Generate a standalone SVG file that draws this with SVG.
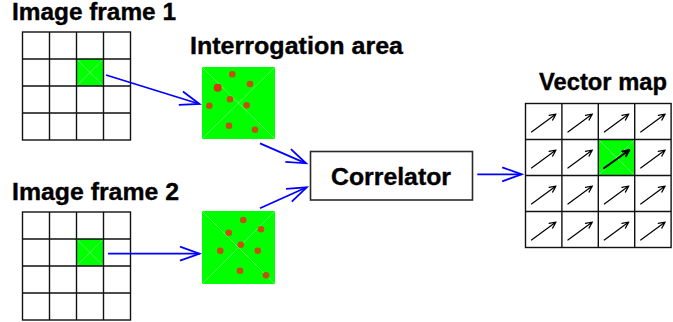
<svg xmlns="http://www.w3.org/2000/svg" xmlns:xlink="http://www.w3.org/1999/xlink" width="673" height="322" viewBox="0 0 673 322">
  <style>
    .label { font-family: "Liberation Sans", Arial, sans-serif; font-weight: bold; font-size: 23px; fill: #000; stroke: #000; stroke-width: 0.35; }
    .grid { fill: none; stroke: #111; stroke-width: 1.4; }
    .hot { fill: #00ff00; }
    .diag { stroke: #ffffff; stroke-opacity: 0.45; stroke-width: 0.8; }
    .dot { fill: #c2500f; }
    .flow { fill: none; stroke: #0000ff; stroke-width: 1.8; marker-end: url(#openHead); }
    .vec { fill: none; stroke: #000; stroke-width: 1.2; stroke-linecap: round; stroke-linejoin: round; }
    .vec-strong { stroke-width: 2; }
  </style>
  <defs>
    <marker id="openHead" markerUnits="userSpaceOnUse" markerWidth="24" markerHeight="18" refX="20" refY="8" orient="auto" overflow="visible">
      <path d="M0.5,1 L20,8 L0.5,15" fill="none" stroke="#0000ff" stroke-width="1.8"/>
    </marker>
    <!-- 4x4 frame grid, 27px cells -->
    <g id="frameGrid">
      <rect class="grid" x="0" y="0" width="108" height="108"/>
      <path class="grid" d="M27,0V108M54,0V108M81,0V108M0,27H108M0,54H108M0,81H108"/>
    </g>
    <!-- highlighted window cell with faint diagonals -->
    <g id="hotCell">
      <rect class="hot" x="0" y="0" width="27" height="27"/>
      <path class="diag" d="M0,0L27,27M27,0L0,27"/>
    </g>
    <!-- displacement vector inside a map cell -->
    <g id="vec">
      <path class="vec" d="M6,28.5 L30.5,10.5 M23.6,11.9 L30.5,10.5 L27.1,16.6"/>
    </g>
  </defs>

  <rect width="673" height="322" fill="#ffffff"/>

  <!-- first image frame -->
  <g id="frame1">
    <text class="label" x="12" y="19.5" textLength="164" lengthAdjust="spacingAndGlyphs">Image frame 1</text>
    <use href="#hotCell" x="76.5" y="59"/>
    <use href="#frameGrid" x="22.5" y="32"/>
  </g>

  <!-- second image frame -->
  <g id="frame2">
    <text class="label" x="12" y="199.5" textLength="167" lengthAdjust="spacingAndGlyphs">Image frame 2</text>
    <use href="#hotCell" x="76.5" y="239"/>
    <use href="#frameGrid" x="22.5" y="212"/>
  </g>

  <!-- interrogation window from frame 1 -->
  <g id="area1">
    <text class="label" x="190" y="53.5" textLength="213" lengthAdjust="spacingAndGlyphs" font-size="24">Interrogation area</text>
    <rect class="hot" x="202" y="67" width="73" height="72"/>
    <path class="diag" d="M202,67L275,139M275,67L202,139"/>
    <circle class="dot" cx="232.3" cy="74.3" r="3.3"/>
    <circle class="dot" cx="250" cy="84" r="3.3"/>
    <circle cx="217.7" cy="87.7" r="4" fill="#d8340c"/>
    <circle class="dot" cx="230" cy="99.3" r="3.3"/>
    <circle class="dot" cx="209.3" cy="105.7" r="3.3"/>
    <circle class="dot" cx="246.7" cy="105.3" r="3.3"/>
    <circle class="dot" cx="229" cy="125.7" r="3.3"/>
    <circle class="dot" cx="255" cy="129.7" r="3.3"/>
  </g>

  <!-- interrogation window from frame 2 -->
  <g id="area2">
    <rect class="hot" x="202" y="211" width="73" height="73"/>
    <path class="diag" d="M202,211L275,284M275,211L202,284"/>
    <circle class="dot" cx="243.3" cy="220" r="3.3"/>
    <circle class="dot" cx="261" cy="229.3" r="3.3"/>
    <circle class="dot" cx="228.7" cy="232.7" r="3.3"/>
    <circle class="dot" cx="240.7" cy="244.7" r="3.3"/>
    <circle class="dot" cx="220.3" cy="250.7" r="3.3"/>
    <circle class="dot" cx="257.7" cy="250.7" r="3.3"/>
    <circle class="dot" cx="240" cy="270.7" r="3.3"/>
    <circle class="dot" cx="266" cy="275.3" r="3.3"/>
  </g>

  <!-- correlator block -->
  <g id="correlator">
    <rect x="310.5" y="151.5" width="162" height="48.5" fill="#ffffff" stroke="#2a2a2a" stroke-width="1.6"/>
    <text class="label" x="331" y="184.5" textLength="120" lengthAdjust="spacingAndGlyphs">Correlator</text>
  </g>

  <!-- resulting vector map -->
  <g id="vectormap">
    <text class="label" x="539" y="89.5" textLength="128" lengthAdjust="spacingAndGlyphs">Vector map</text>
    <rect class="hot" x="598.3" y="139.5" width="36.4" height="36"/>
    <path class="diag" d="M598.3,139.5L634.7,175.5M634.7,139.5L598.3,175.5"/>
    <rect class="grid" x="525.5" y="103.5" width="145.6" height="144"/>
    <path class="grid" d="M561.9,103.5V247.5M598.3,103.5V247.5M634.7,103.5V247.5M525.5,139.5H671.1M525.5,175.5H671.1M525.5,211.5H671.1"/>
    <use href="#vec" x="525.5" y="103.5"/>
    <use href="#vec" x="561.9" y="103.5"/>
    <use href="#vec" x="598.3" y="103.5"/>
    <use href="#vec" x="634.7" y="103.5"/>
    <use href="#vec" x="525.5" y="139.5"/>
    <use href="#vec" x="561.9" y="139.5"/>
    <path class="vec vec-strong" d="M604,168.3 L629.3,150 M622.3,151.4 L629.3,150 L625.9,156.2"/>
    <use href="#vec" x="634.7" y="139.5"/>
    <use href="#vec" x="525.5" y="175.5"/>
    <use href="#vec" x="561.9" y="175.5"/>
    <use href="#vec" x="598.3" y="175.5"/>
    <use href="#vec" x="634.7" y="175.5"/>
    <use href="#vec" x="525.5" y="211.5"/>
    <use href="#vec" x="561.9" y="211.5"/>
    <use href="#vec" x="598.3" y="211.5"/>
    <use href="#vec" x="634.7" y="211.5"/>
  </g>

  <!-- data flow connectors -->
  <g id="connectors">
    <path class="flow" d="M106,75 L199.5,104"/>
    <path class="flow" d="M108,253.7 L199.5,253.7"/>
    <path class="flow" d="M260,143.3 L306,163.3"/>
    <path class="flow" d="M260,208.3 L306.7,187.3"/>
    <path class="flow" d="M477.3,174.3 L521.7,174.3"/>
  </g>
</svg>
